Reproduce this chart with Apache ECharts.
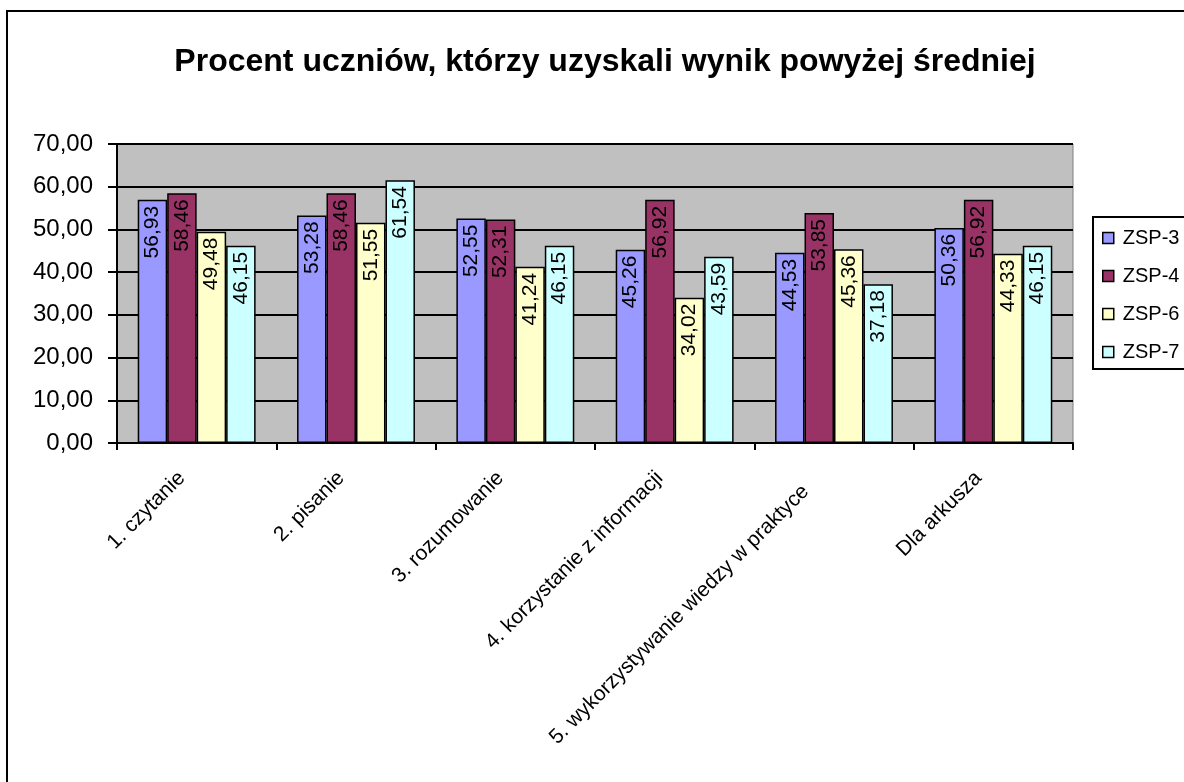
<!DOCTYPE html>
<html><head><meta charset="utf-8">
<script src="https://cdn.jsdelivr.net/npm/echarts@6/dist/echarts.min.js"></script>
<style>html,body{margin:0;padding:0;background:#fff;}#c{width:1184px;height:782px;}</style>
</head><body><div id="c"></div>
<script>
const categories = ['1. czytanie','2. pisanie','3. rozumowanie','4. korzystanie z informacji','5. wykorzystywanie wiedzy w praktyce','Dla arkusza'];
const seriesNames = ['ZSP-3','ZSP-4','ZSP-6','ZSP-7'];
const zsp3 = [56.93, 53.28, 52.55, 45.26, 44.53, 50.36];
const zsp4 = [58.46, 58.46, 52.31, 56.92, 53.85, 56.92];
const zsp6 = [49.48, 51.55, 41.24, 34.02, 45.36, 44.33];
const zsp7 = [46.15, 61.54, 46.15, 43.59, 37.18, 46.15];
const colors = ['#9999FF','#993366','#FFFFCC','#CCFFFF'];
const values = [zsp3, zsp4, zsp6, zsp7];
const FONT = 'Liberation Sans, Arial, sans-serif';
const fmt = v => v.toFixed(2).replace('.', ',');

const chart = echarts.init(document.getElementById('c'), null, {renderer:'canvas'});
chart.setOption({
  animation:false,
  backgroundColor:'#fff',
  title:{text:'Procent uczniów, którzy uzyskali wynik powyżej średniej', left:600, top:41, textAlign:'center',
    textStyle:{fontFamily:FONT, fontWeight:'bold', fontSize:32, color:'#000'}},
  graphic:[{type:'rect', shape:{x:7,y:11,width:1400,height:1000}, style:{fill:'none', stroke:'#000', lineWidth:2}, silent:true}],
  legend:{orient:'vertical', left:1093, top:217, itemWidth:11, itemHeight:11, itemGap:18,
    padding:[11,20,7,9], borderColor:'#000', borderWidth:2, backgroundColor:'#fff',
    textStyle:{fontFamily:FONT, fontSize:20, color:'#000', padding:[0,0,0,4]},
    data: seriesNames.map(n=>({name:n, icon:'rect', itemStyle:{borderColor:'#000', borderWidth:1.5}}))},
  grid:{left:117, right:111, top:144, bottom:339, show:true, backgroundColor:'#C0C0C0', borderColor:'#808080', borderWidth:1},
  xAxis:{type:'category', data:categories,
    axisLine:{lineStyle:{color:'#000', width:2}},
    axisTick:{show:true, length:7, lineStyle:{color:'#000', width:2}},
    axisLabel:{rotate:45, interval:0, fontFamily:FONT, fontSize:21, color:'#000', margin:17,
      formatter:(v,i)=> i===4 ? '{b|'+v+'}' : '{a|'+v+'}',
      rich:{a:{fontFamily:FONT, fontSize:21, color:'#000', padding:[0,21,0,0]},
            b:{fontFamily:FONT, fontSize:21, color:'#000', padding:[0,40,0,0]}}}},
  yAxis:{type:'value', min:0, max:70, interval:10,
    axisLine:{show:true, lineStyle:{color:'#000', width:2}},
    axisTick:{show:true, length:9, lineStyle:{color:'#000', width:2}},
    splitLine:{lineStyle:{color:'#000', width:2}},
    axisLabel:{formatter:v=>fmt(v), fontFamily:FONT, fontSize:24, color:'#000', margin:24}},
  series: seriesNames.map((n,i)=>({
    name:n, type:'bar', data:values[i], barGap:'0%', barCategoryGap:'26%',
    itemStyle:{color:colors[i], borderColor:'#000', borderWidth:1.5},
    label:{show:true, position:'insideTop', rotate:90, align:'right', verticalAlign:'middle', distance:6,
      formatter:p=>fmt(p.value), fontFamily:FONT, fontSize:21, color:'#000'}
  }))
});
</script></body></html>
